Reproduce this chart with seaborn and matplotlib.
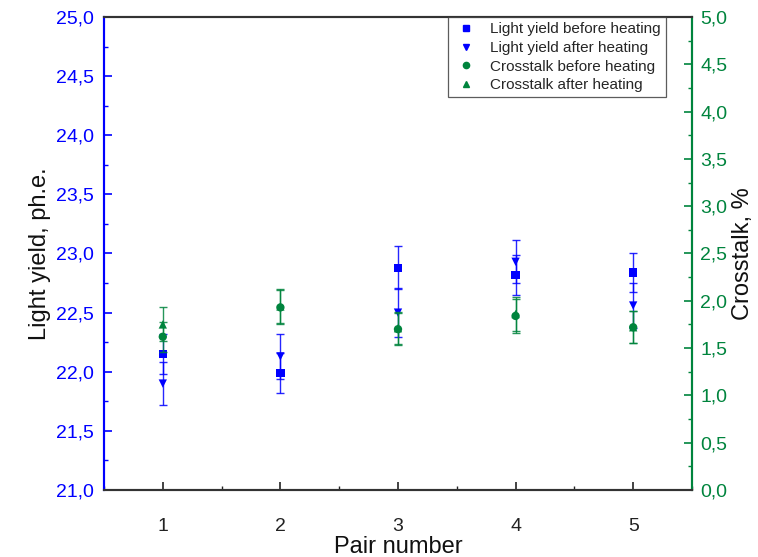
import numpy as np
import pandas as pd
import matplotlib
matplotlib.use("Agg")
import matplotlib.pyplot as plt
from matplotlib.ticker import FuncFormatter, MultipleLocator
from matplotlib.lines import Line2D
import seaborn as sns

pairs = [1, 2, 3, 4, 5]

ly_before = [22.15, 21.99, 22.88, 22.82, 22.84]
ly_before_err = [0.17, 0.17, 0.18, 0.17, 0.165]
ly_after = [21.90, 22.13, 22.50, 22.93, 22.56]
ly_after_err = [0.18, 0.19, 0.21, 0.18, 0.19]

ct_before = [1.62, 1.93, 1.70, 1.84, 1.72]
ct_before_err = [0.16, 0.18, 0.17, 0.18, 0.17]
ct_after = [1.75, 1.94, 1.71, 1.86, 1.72]
ct_after_err = [0.18, 0.18, 0.17, 0.18, 0.17]

BLUE = "#0000FF"
GREEN = "#00843D"

sns.set_theme(style="white")
plt.rcParams["font.family"] = ["Liberation Sans", "DejaVu Sans"]

fig = plt.figure(figsize=(7.58, 5.57), dpi=100)
ax = fig.add_axes([0.1372, 0.1203, 0.7757, 0.8492])
ax2 = ax.twinx()

ly = pd.DataFrame({"pair": pairs * 2,
                   "value": ly_before + ly_after,
                   "err": ly_before_err + ly_after_err,
                   "state": ["before"] * 5 + ["after"] * 5})
ct = pd.DataFrame({"pair": pairs * 2,
                   "value": ct_before + ct_after,
                   "err": ct_before_err + ct_after_err,
                   "state": ["before"] * 5 + ["after"] * 5})

cap = 3.2
ax.errorbar(ly["pair"], ly["value"], yerr=ly["err"], fmt="none",
            ecolor=BLUE, elinewidth=1.0, capsize=cap, capthick=1.0, alpha=0.85)
ax2.errorbar(ct["pair"], ct["value"], yerr=ct["err"], fmt="none",
             ecolor=GREEN, elinewidth=1.0, capsize=cap, capthick=1.0, alpha=0.85)

sns.scatterplot(data=ly, x="pair", y="value", style="state",
                markers={"before": "s", "after": "v"}, color=BLUE,
                s=36, edgecolor=BLUE, linewidth=0, ax=ax, legend=False, zorder=5)
sns.scatterplot(data=ct, x="pair", y="value", style="state",
                markers={"before": "o", "after": "^"}, color=GREEN,
                s=36, edgecolor=GREEN, linewidth=0, ax=ax2, legend=False, zorder=5)

ax.set_xlim(0.5, 5.5)
ax.set_ylim(21, 25)
ax2.set_ylim(0, 5)

comma = FuncFormatter(lambda v, p: f"{v:.1f}".replace(".", ","))
ax.yaxis.set_major_formatter(comma)
ax2.yaxis.set_major_formatter(comma)
ax.yaxis.set_major_locator(MultipleLocator(0.5))
ax.yaxis.set_minor_locator(MultipleLocator(0.25))
ax2.yaxis.set_major_locator(MultipleLocator(0.5))
ax2.yaxis.set_minor_locator(MultipleLocator(0.25))
ax.xaxis.set_major_locator(MultipleLocator(1))
ax.xaxis.set_minor_locator(MultipleLocator(0.5))

ax.tick_params(axis="y", which="both", direction="in", colors=BLUE,
               labelsize=14, left=True, right=False, pad=7)
ax.tick_params(axis="y", which="major", length=6, width=1.2)
ax.tick_params(axis="y", which="minor", length=3, width=1.0)
ax.tick_params(axis="x", which="both", direction="in", colors="#222222",
               labelsize=14, bottom=True, top=False)
ax.tick_params(axis="x", which="major", length=6, width=1.2, pad=20)
ax.tick_params(axis="x", which="minor", length=3, width=1.0)
ax2.tick_params(axis="y", which="both", direction="in", colors=GREEN,
                labelsize=14, right=True, left=False, pad=6)
ax2.tick_params(axis="y", which="major", length=6, width=1.2)
ax2.tick_params(axis="y", which="minor", length=3, width=1.0)

for a in (ax, ax2):
    for side in ("top", "bottom"):
        a.spines[side].set_color("#333333")
        a.spines[side].set_linewidth(1.5)
    a.spines["left"].set_color(BLUE)
    a.spines["right"].set_color(GREEN)
    a.spines["left"].set_linewidth(1.5)
    a.spines["right"].set_linewidth(1.5)

ax.set_xlabel("Pair number", fontsize=17, color="#111111", labelpad=1)
ax.set_ylabel("Light yield, ph.e.", fontsize=17, color="#111111", labelpad=4)
ax2.set_ylabel("Crosstalk, %", fontsize=17, color="#111111", labelpad=3)
ax.grid(False)
ax2.grid(False)

handles = [
    Line2D([], [], ls="none", marker="s", color=BLUE, markersize=4.5),
    Line2D([], [], ls="none", marker="v", color=BLUE, markersize=5),
    Line2D([], [], ls="none", marker="o", color=GREEN, markersize=4.5),
    Line2D([], [], ls="none", marker="^", color=GREEN, markersize=5),
]
labels = ["Light yield before heating", "Light yield after heating",
          "Crosstalk before heating", "Crosstalk after heating"]
leg = ax2.legend(handles, labels, loc="upper right", bbox_to_anchor=(0.956, 1.0),
                 borderaxespad=0, fontsize=11, frameon=True, fancybox=False,
                 edgecolor="#333333", handletextpad=0.8, labelspacing=0.3,
                 borderpad=0.35, handlelength=1.6)
leg.get_frame().set_linewidth(0.9)

fig.savefig("out.png", dpi=100)
